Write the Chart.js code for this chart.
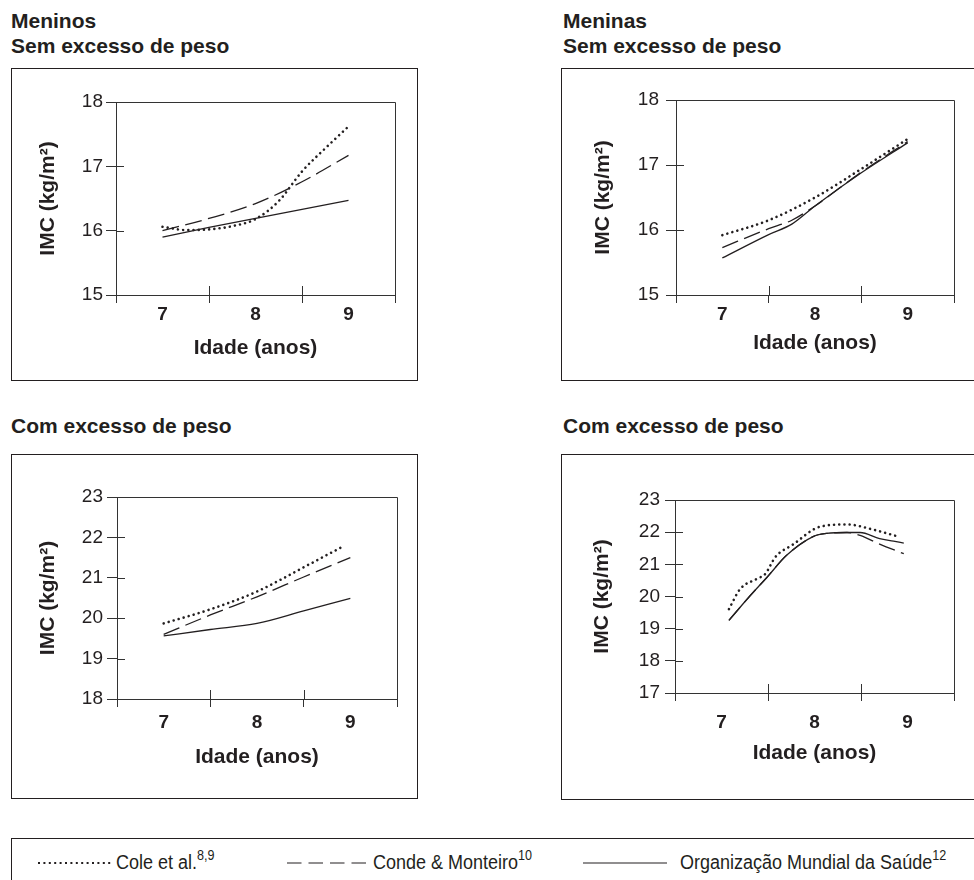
<!DOCTYPE html>
<html>
<head>
<meta charset="utf-8">
<script src="https://cdn.jsdelivr.net/npm/chart.js@4.4.1/dist/chart.umd.min.js"></script>
<style>
html,body{margin:0;padding:0;background:#fff;}
body{width:974px;height:880px;position:relative;overflow:hidden;font-family:"Liberation Sans",Arial,Helvetica,sans-serif;color:#231f20;}
.title{position:absolute;font-weight:bold;font-size:21px;line-height:25.4px;white-space:nowrap;}
.box{position:absolute;border:1.5px solid #231f20;box-sizing:border-box;}
canvas{position:absolute;}
.leg{position:absolute;font-size:20px;line-height:24px;white-space:nowrap;transform:scaleX(0.9);transform-origin:0 0;}
.leg sup{font-size:14px;vertical-align:baseline;position:relative;top:-9px;line-height:0;}
svg{position:absolute;}
</style>
</head>
<body>
<div class="title" style="left:11px;top:7.5px;">Meninos<br>Sem excesso de peso</div>
<div class="title" style="left:563px;top:7.5px;">Meninas<br>Sem excesso de peso</div>
<div class="title" style="left:11px;top:413px;">Com excesso de peso</div>
<div class="title" style="left:563px;top:413px;">Com excesso de peso</div>

<div class="box" style="left:11px;top:68px;width:407px;height:313px;"></div>
<div class="box" style="left:561px;top:68px;width:420px;height:313px;"></div>
<div class="box" style="left:11px;top:454px;width:407px;height:345px;"></div>
<div class="box" style="left:561px;top:454px;width:420px;height:346px;"></div>
<div class="box" style="left:11px;top:838px;width:980px;height:60px;"></div>

<canvas id="c1"></canvas>
<canvas id="c2"></canvas>
<canvas id="c3"></canvas>
<canvas id="c4"></canvas>

<svg style="left:0;top:830px;" width="974" height="50">
  <line x1="38" y1="33" x2="113" y2="33" stroke="#231f20" stroke-width="2" stroke-dasharray="2 3.4"/>
  <line x1="287" y1="33" x2="367" y2="33" stroke="#231f20" stroke-width="1.2" stroke-dasharray="14.5 7"/>
  <line x1="583" y1="33" x2="667" y2="33" stroke="#231f20" stroke-width="1.2"/>
</svg>
<div class="leg" style="left:116px;top:850.4px;">Cole et al.<sup>8,9</sup></div>
<div class="leg" style="left:373px;top:850.4px;">Conde &amp; Monteiro<sup>10</sup></div>
<div class="leg" style="left:680px;top:850.4px;">Organização Mundial da Saúde<sup>12</sup></div>

<script>
// ---------- data ----------
const ageLabels = [7, 8, 9];
const seriesNames = ['Cole et al.', 'Conde & Monteiro', 'Organização Mundial da Saúde'];

// Meninos - sem excesso de peso
const boysNormColeAges = [7, 7.25, 7.5, 7.75, 8, 8.25, 8.5, 8.75, 9];
const boysNormCole     = [16.06, 16.01, 16.02, 16.07, 16.18, 16.46, 16.92, 17.28, 17.62];
const boysNormCondeAges = [7, 7.5, 8, 8.5, 9];
const boysNormConde     = [16.00, 16.19, 16.42, 16.76, 17.17];
const boysNormOmsAges = [7, 7.5, 8, 8.5, 9];
const boysNormOms     = [15.90, 16.05, 16.19, 16.33, 16.47];

// Meninas - sem excesso de peso
const girlsNormColeAges = [7, 7.5, 8, 8.5, 9];
const girlsNormCole     = [15.92, 16.15, 16.50, 16.94, 17.40];
const girlsNormCondeAges = [7, 7.5, 7.75, 8, 8.5, 9];
const girlsNormConde     = [15.73, 16.02, 16.15, 16.37, 16.89, 17.36];
const girlsNormOmsAges = [7, 7.5, 7.75, 8, 8.5, 9];
const girlsNormOms     = [15.57, 15.93, 16.09, 16.37, 16.88, 17.34];

// Meninos - com excesso de peso
const boysOverColeAges = [7, 7.5, 8, 8.5, 8.9];
const boysOverCole     = [19.87, 20.22, 20.66, 21.26, 21.75];
const boysOverCondeAges = [7, 7.5, 8, 8.5, 9];
const boysOverConde     = [19.60, 20.08, 20.53, 21.02, 21.50];
const boysOverOmsAges = [7, 7.5, 8, 8.5, 9];
const boysOverOms     = [19.56, 19.72, 19.87, 20.18, 20.49];

// Meninas - com excesso de peso
const girlsOverColeAges = [7.08, 7.20, 7.38, 7.47, 7.58, 7.77, 8.06, 8.35, 8.63, 8.88];
const girlsOverCole     = [19.61, 20.23, 20.55, 20.70, 21.23, 21.62, 22.17, 22.24, 22.08, 21.88];
const girlsOverCondeAges = [7.08, 7.31, 7.49, 7.70, 7.99, 8.13, 8.35, 8.49, 8.70, 8.96];
const girlsOverConde     = [19.26, 20.03, 20.60, 21.28, 21.87, 21.96, 21.99, 21.90, 21.63, 21.33];
const girlsOverOmsAges = [7.08, 7.31, 7.49, 7.70, 7.99, 8.13, 8.35, 8.49, 8.70, 8.85, 8.96];
const girlsOverOms     = [19.26, 20.03, 20.60, 21.28, 21.87, 21.96, 21.99, 21.99, 21.80, 21.72, 21.66];

const yRangeNorm = [15, 18];
const yRangeBoysOver = [18, 23];
const yRangeGirlsOver = [17, 23];

// ---------- rendering ----------
const INK = '#231f20';
const AXIS = '#333333';
const FONT = '"Liberation Sans", Arial, Helvetica, sans-serif';

const pts = (xs, ys) => xs.map((x, i) => ({x: x, y: ys[i]}));

function lineSet(name, xs, ys, style) {
  const base = {label: name, data: pts(xs, ys), borderColor: INK, backgroundColor: INK,
    pointRadius: 0, fill: false, cubicInterpolationMode: 'monotone'};
  if (style === 'dot') return Object.assign(base, {borderWidth: 2.6, borderDash: [0.01, 5.2], borderCapStyle: 'round'});
  if (style === 'dash') return Object.assign(base, {borderWidth: 1.3, borderDash: [17, 6.5]});
  return Object.assign(base, {borderWidth: 1.3});
}

const framePlugin = {
  id: 'frame',
  afterDraw(chart) {
    const {ctx, chartArea: a, scales} = chart;
    const x = scales.x, y = scales.y;
    ctx.save();
    ctx.strokeStyle = AXIS;
    ctx.lineWidth = 1;
    ctx.beginPath();
    ctx.moveTo(a.left, Math.round(a.top) + 0.5);
    ctx.lineTo(Math.round(a.right) + 0.5, Math.round(a.top) + 0.5);
    ctx.lineTo(Math.round(a.right) + 0.5, a.bottom);
    x.ticks.forEach(t => {
      if (!Number.isInteger(t.value)) {
        const px = Math.round(x.getPixelForValue(t.value)) + 0.5;
        ctx.moveTo(px, a.bottom);
        ctx.lineTo(px, a.bottom - 9);
      }
    });
    y.ticks.forEach(t => {
      const py = Math.round(y.getPixelForValue(t.value)) + 0.5;
      ctx.moveTo(a.left, py);
      ctx.lineTo(a.left + 8, py);
    });
    ctx.stroke();
    ctx.restore();
  }
};

function makeChart(id, g, yRange, datasets) {
  const cv = document.getElementById(id);
  const [cx, cy, cw, ch] = g.box;
  cv.width = cw; cv.height = ch;
  cv.style.left = cx + 'px'; cv.style.top = cy + 'px';
  cv.style.width = cw + 'px'; cv.style.height = ch + 'px';
  const yTitleFont = {family: FONT, size: 21, weight: 'bold', lineHeight: 1.2};
  const xTitleFont = {family: FONT, size: 21, weight: 'bold', lineHeight: 1.2};
  const tickLabelSize = 19;
  const bounds = [];
  ageLabels.forEach((a, i) => { if (i === 0) bounds.push(a - 0.5); bounds.push(a, a + 0.5); });
  const xLabelPad = g.xLabelY - g.plot.b - 8 - tickLabelSize * 1.2 / 2;
  return new Chart(cv, {
    type: 'line',
    data: {datasets: datasets},
    plugins: [framePlugin],
    options: {
      responsive: false,
      animation: false,
      devicePixelRatio: window.devicePixelRatio || 1,
      layout: {padding: {top: g.plot.t - cy, right: cx + cw - g.plot.r, left: 0, bottom: 0}},
      plugins: {legend: {display: false}, tooltip: {enabled: false}},
      scales: {
        x: {
          type: 'linear',
          min: ageLabels[0] - 0.5,
          max: ageLabels[ageLabels.length - 1] + 0.5,
          afterBuildTicks: s => { s.ticks = bounds.map(v => ({value: v})); },
          afterFit: s => { s.height = cy + ch - g.plot.b; },
          ticks: {
            autoSkip: false, maxRotation: 0, minRotation: 0,
            padding: Math.max(0, xLabelPad),
            color: INK,
            font: {family: FONT, size: tickLabelSize, weight: 'bold'},
            callback: v => Number.isInteger(v) ? String(v) : ''
          },
          grid: {
            drawOnChartArea: false, tickLength: 8, lineWidth: 1,
            color: c => (c.tick && Number.isInteger(c.tick.value)) ? 'rgba(0,0,0,0)' : AXIS
          },
          border: {display: true, color: AXIS, width: 1},
          title: {
            display: true, text: 'Idade (anos)', color: INK, font: xTitleFont,
            padding: {top: 0, bottom: (cy + ch - g.xTitleY) - 21 * 1.2 / 2}
          }
        },
        y: {
          min: yRange[0], max: yRange[1],
          afterFit: s => { s.width = g.plot.l - cx; },
          ticks: {stepSize: 1, color: INK, padding: g.yLabelPad,
            font: {family: FONT, size: tickLabelSize}},
          grid: {drawOnChartArea: false, tickLength: 10, lineWidth: 1, color: AXIS},
          border: {display: true, color: AXIS, width: 1},
          title: {
            display: true, text: 'IMC (kg/m²)', color: INK, font: yTitleFont,
            padding: {top: (g.yTitleX - cx) - 21 * 1.2 / 2, bottom: 0}
          }
        }
      }
    }
  });
}

const geo = {
  c1: {box: [11, 68, 407, 313], plot: {l: 116, r: 395, t: 102, b: 295}, yTitleX: 48, xTitleY: 348, xLabelY: 314, yLabelPad: 3},
  c2: {box: [561, 68, 420, 313], plot: {l: 676, r: 954, t: 100, b: 295}, yTitleX: 603, xTitleY: 343, xLabelY: 313, yLabelPad: 7},
  c3: {box: [11, 454, 407, 345], plot: {l: 117, r: 397, t: 497, b: 699}, yTitleX: 48, xTitleY: 757, xLabelY: 723, yLabelPad: 4},
  c4: {box: [561, 454, 420, 346], plot: {l: 675, r: 954, t: 500, b: 693}, yTitleX: 602, xTitleY: 753, xLabelY: 723, yLabelPad: 5}
};

makeChart('c1', geo.c1, yRangeNorm, [
  lineSet(seriesNames[0], boysNormColeAges, boysNormCole, 'dot'),
  lineSet(seriesNames[1], boysNormCondeAges, boysNormConde, 'dash'),
  lineSet(seriesNames[2], boysNormOmsAges, boysNormOms, 'solid')
]);
makeChart('c2', geo.c2, yRangeNorm, [
  lineSet(seriesNames[0], girlsNormColeAges, girlsNormCole, 'dot'),
  lineSet(seriesNames[1], girlsNormCondeAges, girlsNormConde, 'dash'),
  lineSet(seriesNames[2], girlsNormOmsAges, girlsNormOms, 'solid')
]);
makeChart('c3', geo.c3, yRangeBoysOver, [
  lineSet(seriesNames[0], boysOverColeAges, boysOverCole, 'dot'),
  lineSet(seriesNames[1], boysOverCondeAges, boysOverConde, 'dash'),
  lineSet(seriesNames[2], boysOverOmsAges, boysOverOms, 'solid')
]);
makeChart('c4', geo.c4, yRangeGirlsOver, [
  lineSet(seriesNames[0], girlsOverColeAges, girlsOverCole, 'dot'),
  lineSet(seriesNames[1], girlsOverCondeAges, girlsOverConde, 'dash'),
  lineSet(seriesNames[2], girlsOverOmsAges, girlsOverOms, 'solid')
]);
</script>
</body>
</html>
